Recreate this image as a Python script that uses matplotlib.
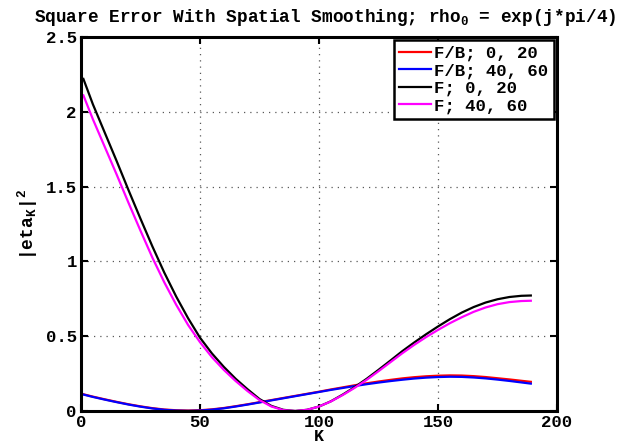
import matplotlib
matplotlib.use("Agg")
import matplotlib.pyplot as plt

plt.rcParams['font.family'] = ['Liberation Mono', 'DejaVu Sans']
plt.rcParams['font.weight'] = 'bold'
plt.rcParams['mathtext.fontset'] = 'custom'
plt.rcParams['mathtext.rm'] = 'Liberation Mono:bold'
plt.rcParams['mathtext.it'] = 'Liberation Mono:bold'
plt.rcParams['mathtext.bf'] = 'Liberation Mono:bold'

K = [1, 5, 10, 15, 20, 25, 30, 35, 40, 45, 50, 55, 60, 65, 70, 75, 80, 85, 90, 95,
     100, 105, 110, 115, 120, 125, 130, 135, 140, 145, 150, 155, 160, 165, 170, 175,
     180, 185, 189]

fb_0_20 = [0.112, 0.096, 0.078, 0.061, 0.045, 0.031, 0.019, 0.010, 0.005, 0.003,
           0.005, 0.011, 0.020, 0.032, 0.045, 0.059, 0.073, 0.087, 0.101, 0.115,
           0.129, 0.144, 0.158, 0.172, 0.185, 0.197, 0.208, 0.218, 0.226, 0.232,
           0.236, 0.238, 0.237, 0.233, 0.227, 0.219, 0.211, 0.202, 0.195]

fb_40_60 = [0.110, 0.094, 0.076, 0.059, 0.043, 0.029, 0.017, 0.008, 0.003, 0.001,
            0.003, 0.009, 0.018, 0.030, 0.043, 0.057, 0.071, 0.085, 0.099, 0.113,
            0.127, 0.141, 0.154, 0.167, 0.179, 0.190, 0.200, 0.209, 0.217, 0.223,
            0.227, 0.229, 0.228, 0.224, 0.218, 0.210, 0.201, 0.191, 0.183]

f_0_20 = [2.22, 2.05, 1.86, 1.67, 1.475, 1.285, 1.10, 0.925, 0.765, 0.62,
          0.49, 0.385, 0.295, 0.215, 0.145, 0.080, 0.034, 0.008, 0.000, 0.008,
          0.030, 0.065, 0.110, 0.160, 0.215, 0.275, 0.337, 0.400, 0.458, 0.513,
          0.565, 0.614, 0.658, 0.695, 0.725, 0.747, 0.762, 0.770, 0.772]

f_40_60 = [2.11, 1.95, 1.765, 1.58, 1.39, 1.205, 1.025, 0.86, 0.71, 0.575,
           0.46, 0.36, 0.275, 0.20, 0.133, 0.073, 0.030, 0.006, 0.000, 0.008,
           0.030, 0.064, 0.107, 0.155, 0.208, 0.266, 0.326, 0.386, 0.442, 0.494,
           0.542, 0.587, 0.627, 0.663, 0.692, 0.714, 0.728, 0.735, 0.737]

labels = ['F/B; 0, 20', 'F/B; 40, 60', 'F; 0, 20', 'F; 40, 60']
colors = ['#ff0000', '#0000ff', '#000000', '#ff00ff']
xticks = [0, 50, 100, 150, 200]
yticks = [0, 0.5, 1, 1.5, 2, 2.5]
yticklabels = ['0', '0.5', '1', '1.5', '2', '2.5']

fig = plt.figure(figsize=(6.2, 4.48), dpi=100)
ax = fig.add_axes([81/620, 1-411/448, (557-81)/620, (411-37)/448])

for ys, c, lab in zip([fb_0_20, fb_40_60, f_0_20, f_40_60], colors, labels):
    ax.plot(K, ys, color=c, lw=1.6, label=lab)

ax.set_xlim(0, 200)
ax.set_ylim(0, 2.5)
ax.set_xticks(xticks)
ax.set_xticklabels([str(t) for t in xticks])
ax.set_yticks(yticks)
ax.set_yticklabels(yticklabels)
ax.tick_params(direction='in', length=5, width=1.5, labelsize=12.5,
               top=True, right=True, pad=3)
for s in ax.spines.values():
    s.set_linewidth(2.2)
ax.grid(True, linestyle=(0, (1, 4)), color='0.35', lw=0.9)

fig.text((34 + 616) / 2 / 620, 1 - 17 / 448,
         r'Square Error With Spatial Smoothing; rho$_0$ = exp(j*pi/4)',
         fontsize=12.8, fontweight='bold', ha='center', va='center')
ax.set_xlabel('K', fontsize=12, fontweight='bold', labelpad=-1)
ax.set_ylabel(r'|eta$_K$|$^2$', fontsize=13, fontweight='bold', labelpad=4)

leg = ax.legend(loc='upper right', fontsize=12.5, handlelength=1.8,
                handletextpad=0.2, borderpad=0.3, labelspacing=0.12,
                borderaxespad=0.2, fancybox=False, framealpha=1)
leg.get_frame().set_edgecolor('black')
leg.get_frame().set_linewidth(1.8)
for t in leg.get_texts():
    t.set_fontweight('bold')

fig.savefig('out.png', dpi=100)
